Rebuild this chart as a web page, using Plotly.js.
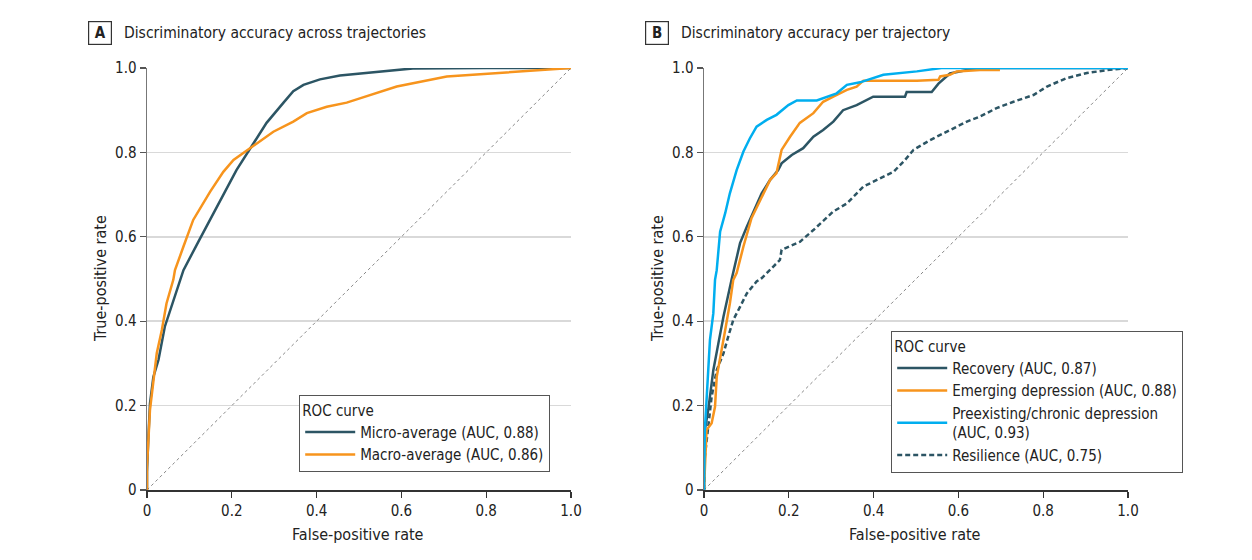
<!DOCTYPE html>
<html>
<head>
<meta charset="utf-8">
<script src="https://cdn.plot.ly/plotly-3.0.1.min.js"></script>
<style>html,body{margin:0;padding:0;background:#fff;}#chart{width:1252px;height:560px;}</style>
</head>
<body>
<div id="chart"></div>
<script>
// ---- Panel A data ----
const microX = [0, 0, 0.003, 0.007, 0.015, 0.027, 0.042, 0.062, 0.078, 0.086, 0.121, 0.160, 0.184, 0.211, 0.243, 0.282, 0.322, 0.345, 0.369, 0.408, 0.455, 0.502, 0.55, 0.627, 0.8, 1.0];
const microY = [0, 0.043, 0.12, 0.205, 0.268, 0.308, 0.387, 0.450, 0.498, 0.521, 0.588, 0.660, 0.707, 0.758, 0.810, 0.870, 0.918, 0.945, 0.960, 0.973, 0.982, 0.987, 0.992, 0.999, 1.0, 1.0];
const macroX = [0, 0, 0.007, 0.023, 0.035, 0.046, 0.062, 0.066, 0.086, 0.109, 0.149, 0.180, 0.204, 0.243, 0.298, 0.345, 0.377, 0.424, 0.471, 0.502, 0.589, 0.707, 0.825, 0.903, 1.0];
const macroY = [0, 0.055, 0.19, 0.324, 0.379, 0.442, 0.498, 0.521, 0.577, 0.640, 0.707, 0.754, 0.782, 0.810, 0.849, 0.873, 0.893, 0.908, 0.918, 0.928, 0.956, 0.980, 0.988, 0.995, 1.0];

// ---- Panel B data ----
const recoveryX = [0, 0.002, 0.010, 0.022, 0.034, 0.046, 0.065, 0.069, 0.085, 0.101, 0.136, 0.156, 0.175, 0.183, 0.207, 0.234, 0.258, 0.281, 0.305, 0.328, 0.360, 0.399, 0.415, 0.474, 0.478, 0.537, 0.553, 0.580, 0.620, 0.667, 1.0];
const recoveryY = [0, 0.142, 0.190, 0.284, 0.348, 0.411, 0.498, 0.514, 0.585, 0.624, 0.703, 0.735, 0.758, 0.774, 0.794, 0.810, 0.837, 0.853, 0.873, 0.900, 0.912, 0.932, 0.932, 0.932, 0.943, 0.943, 0.963, 0.987, 0.995, 1.0, 1.0];
const emergingX = [0, 0.002, 0.006, 0.018, 0.026, 0.030, 0.038, 0.050, 0.061, 0.069, 0.077, 0.093, 0.112, 0.132, 0.156, 0.171, 0.183, 0.203, 0.226, 0.258, 0.281, 0.305, 0.337, 0.360, 0.376, 0.502, 0.553, 0.557, 0.580, 0.596, 0.651, 0.698];
const emergingY = [0, 0.055, 0.142, 0.158, 0.197, 0.268, 0.316, 0.379, 0.442, 0.498, 0.514, 0.577, 0.644, 0.687, 0.735, 0.751, 0.806, 0.837, 0.870, 0.893, 0.920, 0.932, 0.948, 0.956, 0.970, 0.970, 0.972, 0.980, 0.984, 0.992, 0.995, 0.995];
const chronicX = [0, 0.002, 0.014, 0.022, 0.026, 0.030, 0.038, 0.050, 0.061, 0.077, 0.093, 0.108, 0.124, 0.148, 0.171, 0.199, 0.219, 0.266, 0.313, 0.337, 0.368, 0.423, 0.502, 0.560, 1.0];
const chronicY = [0, 0.142, 0.355, 0.419, 0.498, 0.521, 0.612, 0.656, 0.703, 0.758, 0.802, 0.833, 0.861, 0.877, 0.889, 0.912, 0.923, 0.923, 0.940, 0.960, 0.966, 0.984, 0.992, 1.0, 1.0];
const resilienceX = [0, 0.002, 0.010, 0.018, 0.030, 0.046, 0.057, 0.069, 0.085, 0.101, 0.124, 0.136, 0.179, 0.183, 0.226, 0.258, 0.305, 0.337, 0.376, 0.415, 0.447, 0.474, 0.494, 0.533, 0.573, 0.620, 0.651, 0.690, 0.730, 0.777, 0.809, 0.855, 0.903, 0.950, 1.0];
const resilienceY = [0, 0.079, 0.150, 0.221, 0.284, 0.324, 0.363, 0.403, 0.434, 0.466, 0.494, 0.502, 0.545, 0.569, 0.588, 0.616, 0.660, 0.679, 0.719, 0.738, 0.754, 0.782, 0.806, 0.829, 0.849, 0.873, 0.885, 0.905, 0.920, 0.936, 0.956, 0.976, 0.988, 0.995, 1.0];

const diagonal = [0, 1];
const tickVals = [0, 0.2, 0.4, 0.6, 0.8, 1.0];
const tickText = ['0', '0.2', '0.4', '0.6', '0.8', '1.0'];

const panelTitles = ['Discriminatory accuracy across trajectories', 'Discriminatory accuracy per trajectory'];
const panelLetters = ['A', 'B'];
const seriesNamesA = ['Micro-average (AUC, 0.88)', 'Macro-average (AUC, 0.86)'];
const seriesNamesB = ['Recovery (AUC, 0.87)', 'Emerging depression (AUC, 0.88)', 'Preexisting/chronic depression<br>(AUC, 0.93)', 'Resilience (AUC, 0.75)'];

const TEAL = '#2c5564', ORANGE = '#f7941d', BLUE = '#00aeef';
const FONT = '"Liberation Sans Narrow", "DejaVu Sans Condensed", "Open Sans", sans-serif';
const W = 1252, H = 560;

const traces = [
  {x: diagonal, y: diagonal, xaxis: 'x', yaxis: 'y', mode: 'lines', line: {color: '#888', width: 1, dash: 'dot'}, showlegend: false, hoverinfo: 'skip'},
  {x: microX, y: microY, xaxis: 'x', yaxis: 'y', mode: 'lines', name: seriesNamesA[0], line: {color: TEAL, width: 2.5}, legend: 'legend'},
  {x: macroX, y: macroY, xaxis: 'x', yaxis: 'y', mode: 'lines', name: seriesNamesA[1], line: {color: ORANGE, width: 2.5}, legend: 'legend'},
  {x: diagonal, y: diagonal, xaxis: 'x2', yaxis: 'y2', mode: 'lines', line: {color: '#888', width: 1, dash: 'dot'}, showlegend: false, hoverinfo: 'skip'},
  {x: resilienceX, y: resilienceY, xaxis: 'x2', yaxis: 'y2', mode: 'lines', name: seriesNamesB[3], line: {color: TEAL, width: 2.5, dash: '5px,3px'}, legend: 'legend2', legendrank: 4},
  {x: recoveryX, y: recoveryY, xaxis: 'x2', yaxis: 'y2', mode: 'lines', name: seriesNamesB[0], line: {color: TEAL, width: 2.5}, legend: 'legend2', legendrank: 1},
  {x: emergingX, y: emergingY, xaxis: 'x2', yaxis: 'y2', mode: 'lines', name: seriesNamesB[1], line: {color: ORANGE, width: 2.5}, legend: 'legend2', legendrank: 2},
  {x: chronicX, y: chronicY, xaxis: 'x2', yaxis: 'y2', mode: 'lines', name: seriesNamesB[2], line: {color: BLUE, width: 2.5}, legend: 'legend2', legendrank: 3}
];

function xAxis(domain, anchor) {
  return {domain: domain, anchor: anchor, range: [0, 1], tickvals: tickVals, ticktext: tickText,
    showgrid: false, zeroline: false, showline: true, linecolor: '#333', linewidth: 1.5,
    ticks: 'outside', ticklen: 6, tickcolor: '#333', tickwidth: 1.2,
    tickfont: {family: FONT, size: 15, color: '#222'}, fixedrange: true};
}
function yAxis(domain, anchor) {
  return {domain: domain, anchor: anchor, range: [0, 1], tickvals: tickVals, ticktext: tickText,
    showgrid: true, gridcolor: '#d9d9d9', gridwidth: 1.5, zeroline: false, showline: true, linecolor: '#777', linewidth: 1.5,
    ticks: 'outside', ticklen: 6, tickcolor: '#555', tickwidth: 1.2,
    tickfont: {family: FONT, size: 15, color: '#222'}, fixedrange: true};
}

const px = v => v / W, py = v => 1 - v / H;
const yDom = [py(490), py(68)];

const ann = [];
const letterX = [100, 657], titleX = [122, 679];
for (let i = 0; i < 2; i++) {
  ann.push({xref: 'paper', yref: 'paper', x: px(letterX[i]), y: py(33), xanchor: 'center', yanchor: 'middle',
    text: '<b>' + panelLetters[i] + '</b>', showarrow: false, font: {family: FONT, size: 15, color: '#222'},
    bordercolor: '#333', borderwidth: 1.2, borderpad: 3, width: 16, height: 16});
  ann.push({xref: 'paper', yref: 'paper', x: px(titleX[i]), y: py(33), xanchor: 'left', yanchor: 'middle',
    text: panelTitles[i], showarrow: false, font: {family: FONT, size: 15.5, color: '#222'}});
}
const yTitleX = [100, 657], xTitleX = [358, 915];
for (let i = 0; i < 2; i++) {
  ann.push({xref: 'paper', yref: 'paper', x: px(yTitleX[i]), y: py(279), xanchor: 'center', yanchor: 'middle', textangle: -90,
    text: 'True-positive rate', showarrow: false, font: {family: FONT, size: 16, color: '#222'}});
  ann.push({xref: 'paper', yref: 'paper', x: px(xTitleX[i]), y: py(534), xanchor: 'center', yanchor: 'middle',
    text: 'False-positive rate', showarrow: false, font: {family: FONT, size: 16, color: '#222'}});
}

const legendCommon = {xref: 'paper', yref: 'paper', xanchor: 'left', yanchor: 'top', bgcolor: '#fff',
  bordercolor: '#555', borderwidth: 1.2, font: {family: FONT, size: 15, color: '#222'},
  title: {text: 'ROC curve', font: {family: FONT, size: 15, color: '#222'}}, tracegroupgap: 0, itemwidth: 50, traceorder: 'normal'};

const layout = {
  width: W, height: H, margin: {l: 0, r: 0, t: 0, b: 0}, paper_bgcolor: '#fff', plot_bgcolor: '#fff',
  font: {family: FONT, color: '#222'},
  xaxis: xAxis([px(147), px(571)], 'y'), yaxis: yAxis(yDom, 'x'),
  xaxis2: xAxis([px(704), px(1128)], 'y2'), yaxis2: yAxis(yDom, 'x2'),
  legend: Object.assign({}, legendCommon, {x: px(299), y: py(395)}),
  legend2: Object.assign({}, legendCommon, {x: px(891), y: py(331)}),
  annotations: ann,
  showlegend: true
};

Plotly.newPlot('chart', traces, layout, {staticPlot: true, displayModeBar: false});
</script>
</body>
</html>
